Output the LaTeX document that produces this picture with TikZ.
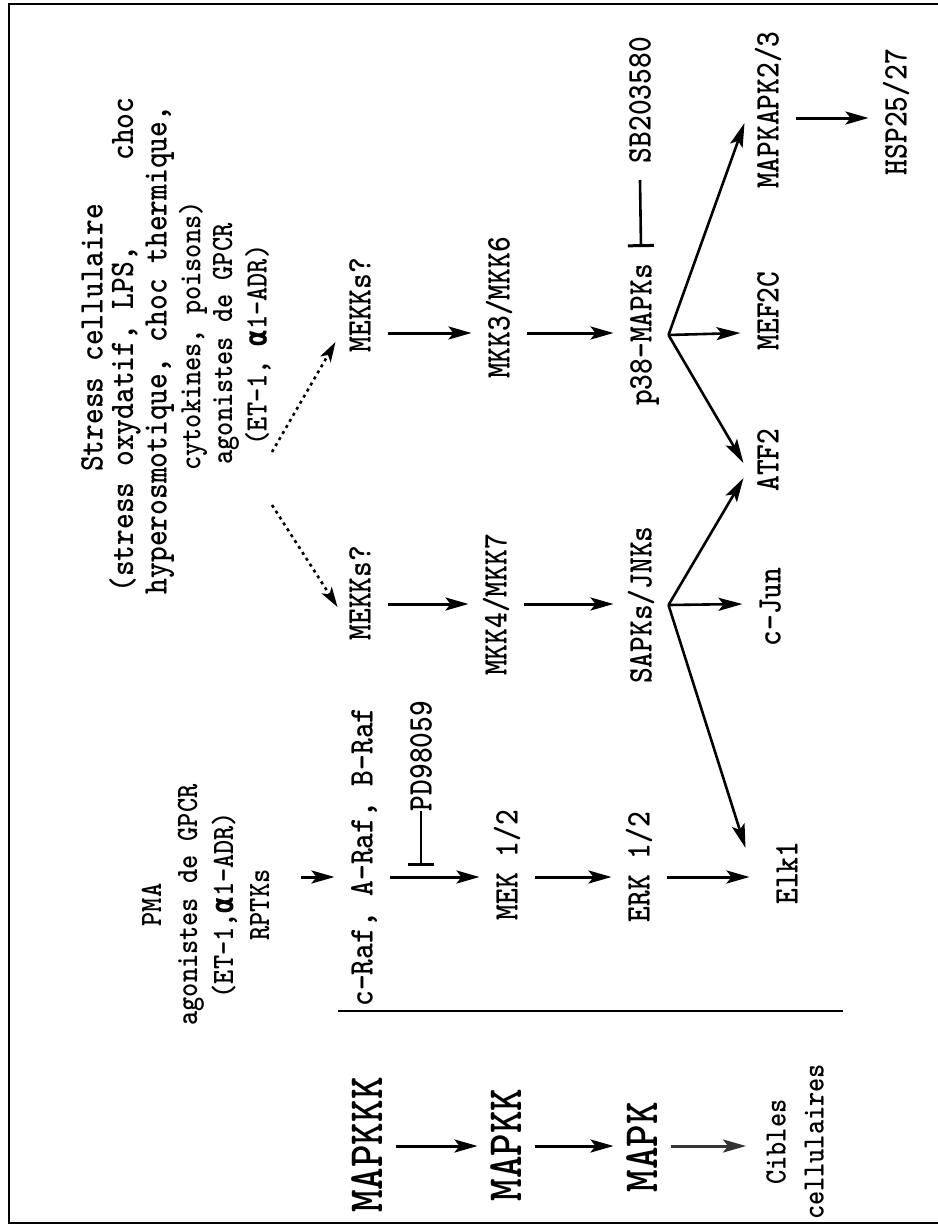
\documentclass[tikz,border=0pt]{standalone}
\usepackage{fontspec}
\newfontfamily\mono{lmmonolt10-bold.otf}
\newfontfamily\grk{DejaVu Sans Mono}
\usetikzlibrary{arrows.meta,calc}
\newcommand{\vst}[2]{\scalebox{1}[#1]{#2}}
\newcommand{\al}{{\grk\bfseries α}}
\begin{document}
\begin{tikzpicture}[x=1pt,y=-1pt,
 lab/.style={rotate=90,inner sep=0pt,outer sep=17pt,text height=21pt,text depth=0pt,font=\mono\fontsize{30}{34}\selectfont},
 big/.style={rotate=90,inner sep=0pt,outer sep=13.5pt,text height=30pt,text depth=0pt,font=\mono\fontsize{43}{48}\selectfont},
 blk/.style={rotate=90,inner sep=0pt,outer sep=13pt,font=\mono},
 txt/.style={rotate=90,inner sep=0pt,font=\mono\fontsize{27}{30}\selectfont},
 txtl/.style={rotate=90,inner sep=0pt,font=\mono\fontsize{30}{34}\selectfont},
 arr/.style={line width=3pt,-{Stealth[length=23pt,width=13pt,inset=5pt]}},
 fan/.style={line width=2.6pt,-{Stealth[length=24pt,width=13pt,inset=5pt]}},
 dotarr/.style={line width=2.6pt,dash pattern=on 3pt off 4pt,-{Stealth[length=20pt,width=12pt,inset=5pt]}},
 inh/.style={line width=2.6pt,-{Bar[width=26pt,line width=3pt]}}]
\useasboundingbox (0,0) rectangle (937,1226);
% frame
\draw[line width=1.8pt] (9,4) rectangle (950,1223);
% rows
\coordinate (rA) at (0,118);
\coordinate (rB) at (0,333);
\coordinate (rC) at (0,604);
\coordinate (rD) at (0,877);
\coordinate (rE) at (0,1146);
\coordinate (tPD) at (0,866);
\coordinate (ds1) at (272,452);
\coordinate (ds2) at (272,505);
% stress block (one node per line)
\node[txtl] (s1) at (92,338) {\vst{1.15}{Stress cellulaire}};
\node[txtl] (s2) at (125,345) {\vst{1.15}{\makebox[495pt][s]{(stress oxydatif, LPS,\hfill choc}}};
\node[txtl] (s3) at (160,350) {\vst{1.15}{hyperosmotique, choc thermique,}};
\node[txt] (s4) at (193,336) {\vst{1.15}{cytokines, poisons)}};
\node[txt] (s5) at (226,344) {\vst{1.15}{agonistes de GPCR}};
\node[txt] (s6) at (258,345) {\vst{1.15}{(ET-1, \al1-ADR)}};
% left block
\node[blk] (pma) at (208,905) {\vst{1.15}{\fontsize{27}{31.3}\selectfont\begin{tabular}{@{}c@{}}PMA\\ agonistes de GPCR\\ (ET-1,\al1-ADR)\\ RPTKs\end{tabular}}};
\node[blk] (cib) at (797,1142) {\vst{1.15}{\fontsize{27}{33}\selectfont\begin{tabular}{@{}c@{}}Cibles\\ cellulaires\end{tabular}}};
% big labels
\node[big] (mapkkk) at (367,1145) {\vst{1.15}{MAPKKK}};
\node[big] (mapkk) at (506,1145) {\vst{1.15}{MAPKK}};
\node[big] (mapk) at (642,1147) {\vst{1.15}{MAPK}};
% labels
\node[lab] (raf) at (362,857) {\vst{1.15}{c-Raf, A-Raf, B-Raf}};
\node[lab,outer sep=0pt] (pd) at (421,756) {\vst{1.15}{PD98059}};
\node[lab] (mek) at (507,865) {\vst{1.15}{MEK 1/2}};
\node[lab] (erk) at (639,867) {\vst{1.15}{ERK 1/2}};
\node[lab] (elk) at (787,873) {\vst{1.15}{Elk1}};
\node[lab] (mekkl) at (360,593) {\vst{1.15}{MEKKs?}};
\node[lab] (mekku) at (360,305) {\vst{1.15}{MEKKs?}};
\node[lab] (mkk4) at (496,605) {\vst{1.15}{MKK4/MKK7}};
\node[lab] (mkk3) at (499,308) {\vst{1.15}{MKK3/MKK6}};
\node[lab] (sapk) at (641,605) {\vst{1.15}{SAPKs/JNKs}};
\node[lab] (p38) at (641,335) {\vst{1.15}{p38-MAPKs}};
\node[lab] (sb) at (640,100) {\vst{1.15}{SB203580}};
\node[lab] (mapkapk) at (768,110) {\vst{1.15}{MAPKAPK2/3}};
\node[lab] (mef) at (768,311) {\vst{1.15}{MEF2C}};
\node[lab] (atf) at (768,460) {\vst{1.15}{ATF2}};
\node[lab] (cjun) at (770,607) {\vst{1.15}{c-Jun}};
\node[lab] (hsp) at (896,112) {\vst{1.15}{HSP25/27}};
% separator
\draw[line width=2.5pt] (338,1011) -- (843,1011);
% row E
\draw[arr] (mapkkk.south |- rE) -- (mapkk.north |- rE);
\draw[arr] (mapkk.south |- rE) -- (mapk.north |- rE);
\draw[arr,black!80] (mapk.south |- rE) -- (cib.north |- rE);
% row D
\draw[arr,shorten <=8pt] (pma.south |- rD) -- (raf.north |- rD);
\draw[arr] (raf.south |- rD) -- (mek.north |- rD);
\draw[arr] (mek.south |- rD) -- (erk.north |- rD);
\draw[arr,shorten >=10pt] (erk.south |- rD) -- (elk.north |- rD);
\draw[inh] (pd.west) -- (pd.west |- tPD);
% row C
\draw[arr] (mekkl.south |- rC) -- (mkk4.north |- rC);
\draw[arr] (mkk4.south |- rC) -- (sapk.north |- rC);
% row B
\draw[arr] (mekku.south |- rB) -- (mkk3.north |- rB);
\draw[arr] (mkk3.south |- rB) -- (p38.north |- rB);
\draw[inh] (sb.west) -- (p38.east);
% row A
\draw[arr] (mapkapk.south |- rA) -- (hsp.north |- rA);
% fans
\draw[fan] (p38.south) -- ($(mapkapk.north)+(4,13)$);
\draw[fan] (p38.south) -- (mef.north |- rB);
\draw[fan] (p38.south) -- ($(atf.north)+(3,3)$);
\draw[fan] (sapk.south) -- ($(atf.north)+(3,18)$);
\draw[fan] (sapk.south) -- (cjun.north |- rC);
\draw[fan] (sapk.south) -- ($(elk.north)+(-14,-25)$);
% dotted
\draw[dotarr] (ds1) -- ($(mekku.north)+(3,37)$);
\draw[dotarr] (ds2) -- ($(mekkl.north)+(5,14)$);
\end{tikzpicture}
\end{document}
